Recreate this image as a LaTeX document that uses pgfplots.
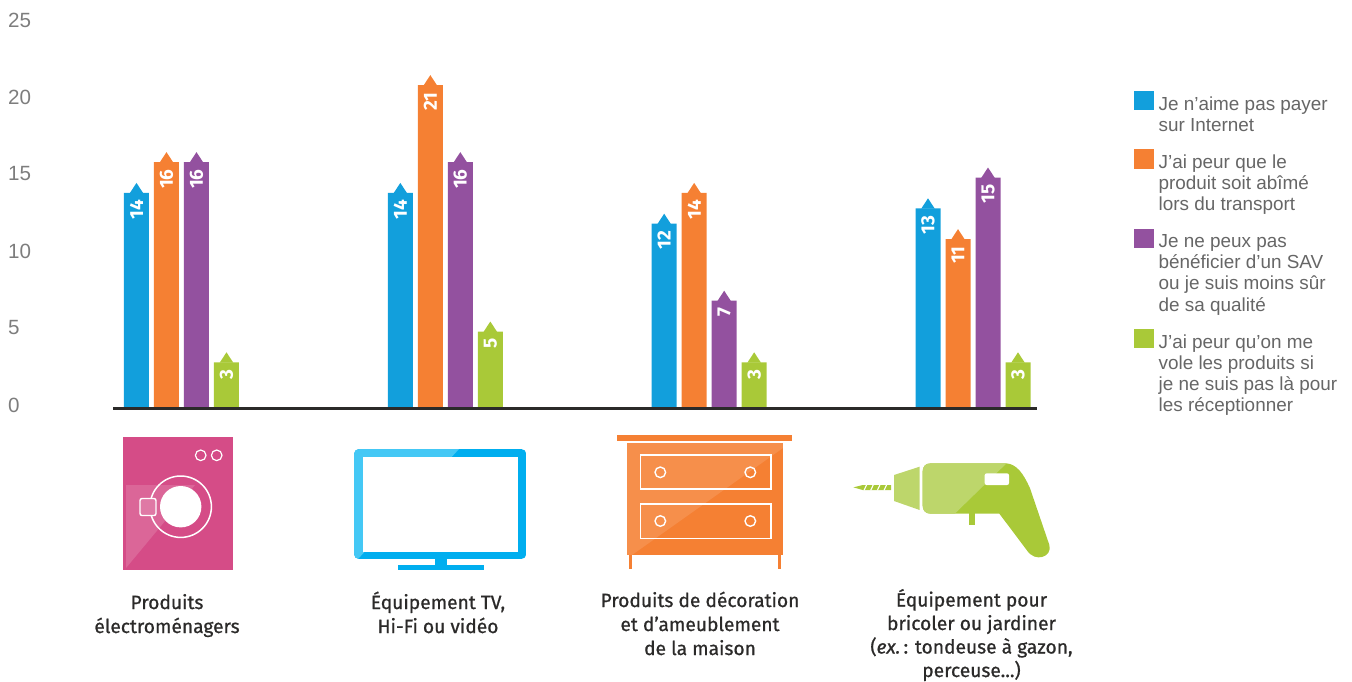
\documentclass[border=0pt]{standalone}
\usepackage{fontspec}
\usepackage{pgfplots}
\usepackage{pgfplotstable}
\pgfplotsset{compat=1.18}
\setmainfont{Liberation Sans}
\newfontfamily\labfont[FakeBold=0.8]{Fira Sans}
\newfontfamily\numfont{Fira Sans}

\definecolor{cBlue}{HTML}{129FDC}
\definecolor{cOrange}{HTML}{F58033}
\definecolor{cPurple}{HTML}{93519F}
\definecolor{cGreen}{HTML}{A9C938}
\definecolor{cPink}{HTML}{D54C87}
\definecolor{cSky}{HTML}{00AEEF}
\definecolor{cSkyLight}{HTML}{44C8F5}
\definecolor{cDrillLight}{HTML}{BDD66B}
\definecolor{cInk}{HTML}{2B2A29}
\definecolor{cGrey}{HTML}{666666}

% Arrow tip sitting on top of each bar
\pgfdeclareplotmark{tip}{%
  \pgfpathmoveto{\pgfpoint{-3.4pt}{-0.2pt}}%
  \pgfpathlineto{\pgfpoint{0pt}{5pt}}%
  \pgfpathlineto{\pgfpoint{3.4pt}{-0.2pt}}%
  \pgfpathclose\pgfusepathqfill}

% g = product group, A..D = the four reasons
\pgfplotstableread{
g A  B  C  D
0 14 16 16 3
1 14 21 16 5
2 12 14 7  3
3 13 11 15 3
}\reasons

\pgfplotsset{
  reason/.style={
    ybar, bar width=12.5pt, bar shift=0pt, draw=none, fill=#1, color=#1,
    mark=tip, mark options={fill=#1, draw=none},
    nodes near coords,
    nodes near coords style={
      font=\numfont\bfseries\fontsize{9.5}{10}\selectfont, text=white,
      yshift=-3.4pt, rotate=90, anchor=east, inner sep=0pt},
    point meta=y
  },
  % square key; the invisible stroke reserves room for the entry's extra lines
  swatch/.style={
    legend image code/.code={
      \fill[##1,draw=none] (0pt,0pt) rectangle (9.6pt,9.6pt);
      \path[draw=none,fill=none] (0pt,0pt) -- (0pt,-#1pt);}
  }
}

\begin{document}
\begin{tikzpicture}

\begin{axis}[
  at={(56.5pt,-204.25pt)}, anchor=south west,
  scale only axis, width=462pt, height=192.5pt,
  xmin=-0.2596, xmax=3.2426, ymin=0, ymax=25,
  axis x line=bottom, axis y line=left, axis line style={-},
  axis on top,
  x axis line style={line width=1.4pt, draw=cInk},
  y axis line style={draw=none},
  xtick=\empty, ytick={0,5,...,25},
  ytick style={draw=none},
  /pgf/number format/assume math mode=true,
  yticklabel style={font=\fontsize{10.3}{12}\selectfont, text=cGrey!85,
    anchor=west, inner sep=0pt, xshift=-50.5pt, yshift=1.75pt},
  clip=false,
  legend cell align=left,
  legend style={
    at={(1.105,0.825)}, anchor=north west, draw=none, fill=none,
    inner sep=0pt, row sep=8.9pt, column sep=2.5pt,
    font=\fontsize{9.45}{10.55}\selectfont, text=cGrey,
    nodes={inner sep=0pt, anchor=base west}},
]
\addplot[reason=cBlue, swatch=10.55]   table[x expr=\thisrow{g}-0.17056, y=A] {\reasons};
\addlegendentry{\begin{tabular}[t]{@{}l@{}}Je n’aime pas payer\\sur Internet\end{tabular}}
\addplot[reason=cOrange, swatch=21.1] table[x expr=\thisrow{g}-0.05685, y=B] {\reasons};
\addlegendentry{\begin{tabular}[t]{@{}l@{}}J’ai peur que le\\produit soit abîmé\\lors du transport\end{tabular}}
\addplot[reason=cPurple, swatch=31.65] table[x expr=\thisrow{g}+0.05685, y=C] {\reasons};
\addlegendentry{\begin{tabular}[t]{@{}l@{}}Je ne peux pas\\bénéficier d’un SAV\\ou je suis moins sûr\\de sa qualité\end{tabular}}
\addplot[reason=cGreen, swatch=31.65]  table[x expr=\thisrow{g}+0.17056, y=D] {\reasons};
\addlegendentry{\begin{tabular}[t]{@{}l@{}}J’ai peur qu’on me\\vole les produits si\\je ne suis pas là pour\\les réceptionner\end{tabular}}
\end{axis}

\begin{scope}[x=0.5pt,y=-0.5pt]
\path[use as bounding box] (0,0) rectangle (1352,681);

% Washing machine
\fill[cPink] (123,437) rectangle (233,570);
\fill[white,opacity=.15] (126,485) -- (195,485) -- (126,568) -- cycle;
\draw[white,line width=.75pt] (180.7,506.7) circle [radius=30.7];
\fill[white] (180.7,506.7) circle [radius=20.7];
\draw[white,line width=.7pt,fill=cPink!75!white,rounded corners=1pt] (140,498.5) rectangle (156,515.5);
\draw[white,line width=.6pt] (200.7,455.3) circle [radius=5.3];
\draw[white,line width=.6pt] (216.7,455.3) circle [radius=5.3];

% Television
\begin{scope}
  \clip[rounded corners=2.5pt] (354,449) rectangle (526.3,559);
  \fill[cSky] (354,449) rectangle (526.3,559);
  \fill[cSkyLight] (354,449) -- (459,449) -- (358,559) -- (354,559) -- cycle;
\end{scope}
\fill[white] (363,457) rectangle (518,552);
\fill[cSky] (435,559) rectangle (447,565);
\fill[cSky] (398,565) rectangle (484,570);

% Chest of drawers
\fill[cOrange] (617,435.3) rectangle (792.3,441.3);
\fill[cOrange] (627,443) rectangle (783,555);
\fill[white,opacity=.12] (627,443) -- (783,443) -- (783,448) -- (632,555) -- (627,555) -- cycle;
\fill[cOrange] (629,555) rectangle (631.5,569);
\fill[cOrange] (778,555) rectangle (780.5,569);
\draw[white,line width=.8pt] (640.5,454.8) rectangle (771.2,489.2);
\draw[white,line width=.8pt] (640.5,503.8) rectangle (771.2,538.5);
\foreach \kx/\ky in {660.3/472.3,750.3/472.3,660.3/521,750.3/521}
  \draw[white,line width=.7pt] (\kx,\ky) circle [radius=5.3];

% Drill, outlined on a finer grid
\begin{scope}[shift={(590,425)},x=0.16667pt,y=-0.16667pt]
  \fill[cGreen] (790,187) -- (818,180) -- (903,180) -- (903,195) -- (818,195) -- cycle;
  \foreach \sx in {822,842,862,882}
    \draw[white,line width=.55pt] (\sx,196) -- (\sx+8,179);
  \fill[cDrillLight] (912,150) -- (989,125) -- (989,255) -- (912,228) -- cycle;
  \fill[cGreen] (1137,260) rectangle (1155,300);
  \path[save path=\drillbody]
    (1022,115) -- (1250,115) .. controls (1280,118) and (1300,145) .. (1320,190)
    -- (1378,360) .. controls (1388,395) and (1335,415) .. (1310,375)
    -- (1228,266) -- (1022,266) .. controls (1006,266) and (998,256) .. (998,242)
    -- (998,139) .. controls (998,125) and (1006,115) .. (1022,115) -- cycle;
  \fill[cGreen,use path=\drillbody];
  \begin{scope}
    \clip[use path=\drillbody];
    \fill[cDrillLight] (990,100) -- (1265,100) -- (1085,275) -- (990,275) -- cycle;
  \end{scope}
  \fill[white,rounded corners=1pt] (1184,145) rectangle (1257,180);
\end{scope}

% Product names
\tikzset{prod/.style={font=\labfont\fontsize{9.6}{12}\selectfont, text=cInk, inner sep=0pt, anchor=base}}
\node[prod, align=center] at (167,633) {Produits\\électroménagers};
\node[prod, align=center] at (438,633) {Équipement TV,\\Hi-Fi ou vidéo};
\node[prod, align=center] at (700,655) {Produits de décoration\\et d’ameublement\\de la maison};
\node[prod, align=center, font=\labfont\fontsize{9.6}{11.75}\selectfont] at (971.5,677) {Équipement pour\\bricoler ou jardiner\\({\itshape ex.}\,: tondeuse à gazon,\\perceuse...)};
\end{scope}
\end{tikzpicture}
\end{document}
